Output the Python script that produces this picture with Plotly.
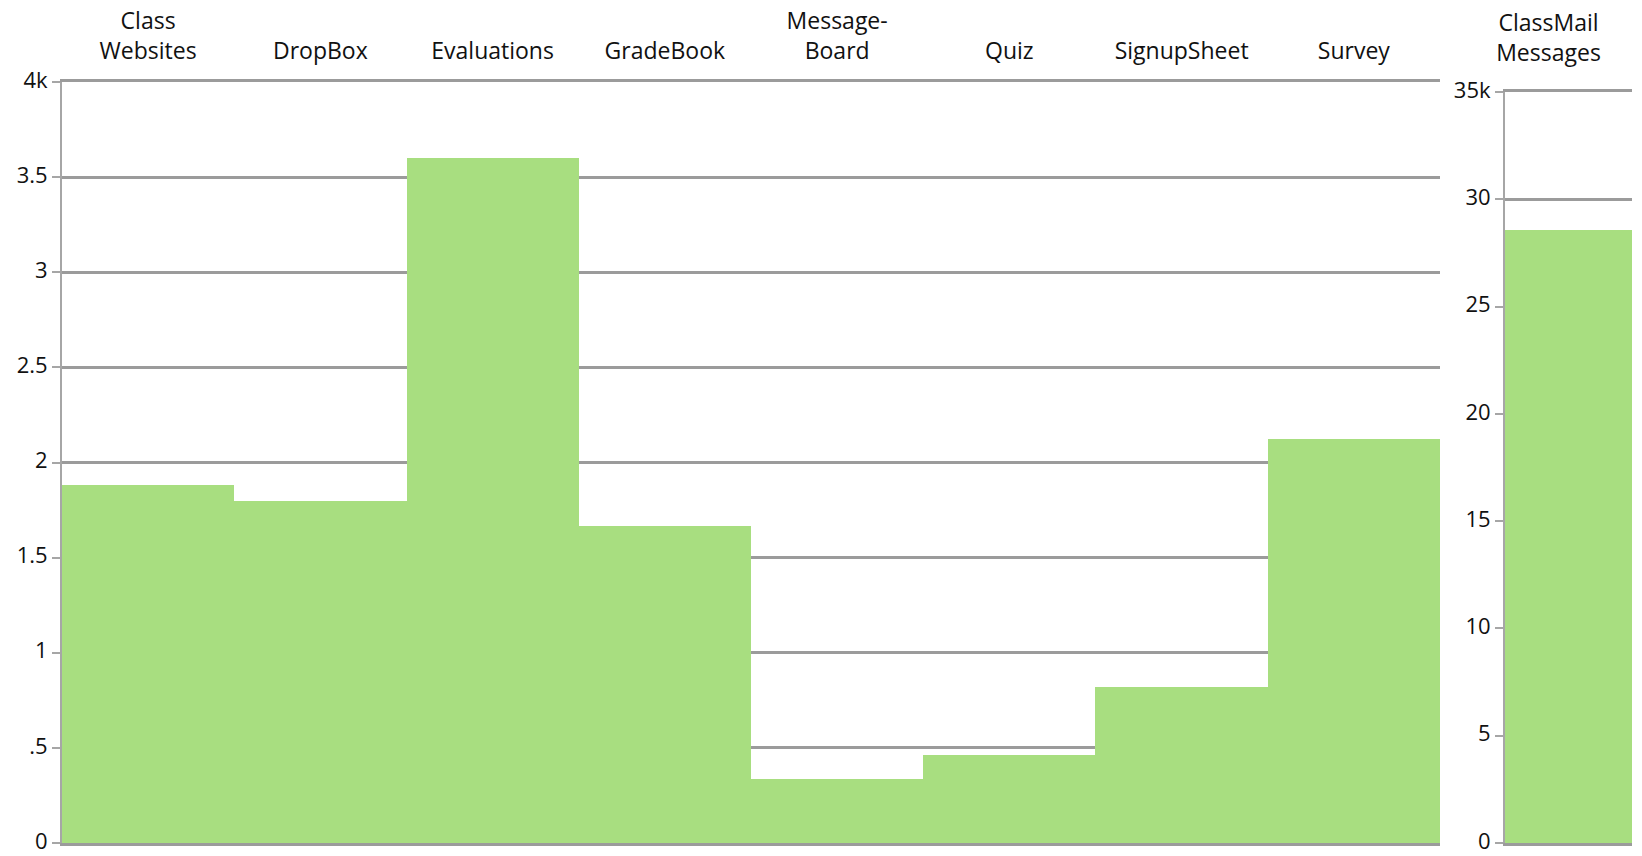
import plotly.graph_objects as go

categories = ["Class<br>Websites", "DropBox", "Evaluations", "GradeBook",
              "Message-<br>Board", "Quiz", "SignupSheet", "Survey"]
values = [1880, 1800, 3600, 1665, 335, 465, 820, 2125]

mail_category = ["ClassMail<br>Messages"]
mail_values = [28580]

left_tickvals = [0, 500, 1000, 1500, 2000, 2500, 3000, 3500, 4000]
left_ticktext = ["0", ".5", "1", "1.5", "2", "2.5", "3", "3.5", "4k"]
right_tickvals = [0, 5000, 10000, 15000, 20000, 25000, 30000, 35000]
right_ticktext = ["0", "5", "10", "15", "20", "25", "30", "35k"]

BAR = "#a8de80"
GRID = "#9b9b9b"
FONT = "Open Sans"

fig = go.Figure()
fig.add_trace(go.Bar(x=categories, y=values, marker=dict(color=BAR, line=dict(width=0)),
                     xaxis="x", yaxis="y", showlegend=False))
fig.add_trace(go.Bar(x=mail_category, y=mail_values, marker=dict(color=BAR, line=dict(width=0)),
                     xaxis="x2", yaxis="y2", showlegend=False))

axis_common = dict(showgrid=True, gridcolor=GRID, gridwidth=2.5, zeroline=False,
                   showline=True, linecolor="#a6a6a6", linewidth=2,
                   ticks="outside", ticklen=8, tickwidth=2, tickcolor="#a6a6a6",
                   automargin=False, ticklabeloverflow="allow", ticklabelshift=-2,
                   tickfont=dict(family=FONT, size=22, color="#111"))

xfont = dict(family=FONT, size=23, color="#111")
xcommon = dict(side="top", showgrid=False, showline=True, mirror=True,
               linecolor=GRID, linewidth=2.5, ticks="", automargin=False,
               ticklabeloverflow="allow", tickfont=xfont)

fig.update_layout(
    width=1642, height=856,
    margin=dict(l=62, r=10, t=82, b=13),
    paper_bgcolor="white", plot_bgcolor="white",
    bargap=0,
    font=dict(family=FONT, size=20, color="#111"),
    xaxis=dict(domain=[0, 0.8777], ticklabelstandoff=11, anchor="y", **xcommon),
    yaxis=dict(domain=[0, 1], range=[0, 4000], tickvals=left_tickvals,
               ticktext=left_ticktext, anchor="x", **axis_common),
    xaxis2=dict(domain=[0.9191, 1], ticklabelstandoff=19, ticklabelshift=-20,
                anchor="y2", **xcommon),
    yaxis2=dict(domain=[0, 0.9869], range=[0, 35000], tickvals=right_tickvals,
                ticktext=right_ticktext, anchor="x2", **axis_common),
)

# Remove the page body's default margin so the figure fills the window exactly.
fig.write_html("out.html",
               config={"displayModeBar": False},
               post_script="document.body.style.margin='0';document.body.style.overflow='hidden';")
